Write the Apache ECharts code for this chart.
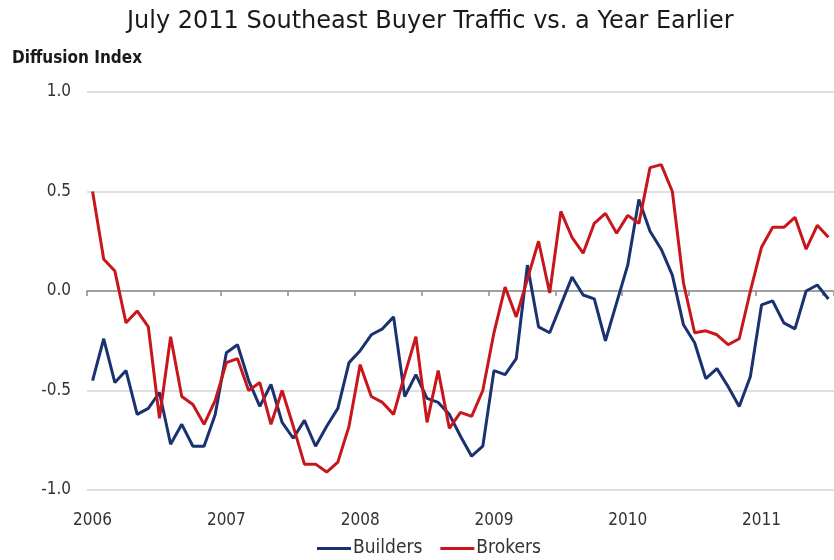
<!DOCTYPE html>
<html>
<head>
<meta charset="utf-8">
<script src="https://cdn.jsdelivr.net/npm/echarts@6/dist/echarts.min.js"></script>
<style>html,body{margin:0;padding:0;background:#fff}#c{width:834px;height:560px}</style>
</head>
<body>
<div id="c"></div>
<script>
const years = ['2006','2007','2008','2009','2010','2011'];
const months = [];
for (const y of years) { for (let m = 1; m <= 12; m++) { if (y === '2011' && m > 7) break; months.push(y + '-' + String(m).padStart(2,'0')); } }

const builders = [
  -0.45, -0.24, -0.46, -0.40, -0.62, -0.59, -0.51, -0.77, -0.67, -0.78, -0.78, -0.62,
  -0.31, -0.27, -0.45, -0.58, -0.47, -0.66, -0.74, -0.65, -0.78, -0.68, -0.59, -0.36,
  -0.30, -0.22, -0.19, -0.13, -0.53, -0.42, -0.54, -0.56, -0.62, -0.73, -0.83, -0.78,
  -0.40, -0.42, -0.34, 0.13, -0.18, -0.21, -0.07, 0.07, -0.02, -0.04, -0.25, -0.06,
  0.13, 0.46, 0.30, 0.21, 0.08, -0.17, -0.26, -0.44, -0.39, -0.48, -0.58, -0.43,
  -0.07, -0.05, -0.16, -0.19, 0.00, 0.03, -0.04
];
const brokers = [
  0.50, 0.16, 0.10, -0.16, -0.10, -0.18, -0.64, -0.23, -0.53, -0.57, -0.67, -0.55,
  -0.36, -0.34, -0.50, -0.46, -0.67, -0.50, -0.68, -0.87, -0.87, -0.91, -0.86, -0.68,
  -0.37, -0.53, -0.56, -0.62, -0.42, -0.23, -0.66, -0.40, -0.69, -0.61, -0.63, -0.50,
  -0.21, 0.02, -0.13, 0.06, 0.25, -0.01, 0.40, 0.27, 0.19, 0.34, 0.39, 0.29,
  0.38, 0.34, 0.62, 0.635, 0.50, 0.04, -0.21, -0.20, -0.22, -0.27, -0.24, 0.00,
  0.22, 0.32, 0.32, 0.37, 0.21, 0.33, 0.27
];
const yTicks = [-1.0, -0.5, 0.0, 0.5, 1.0];

const cond = '"DejaVu Sans Condensed", "DejaVu Sans", sans-serif';
const wide = '"DejaVu Sans", sans-serif';
const chart = echarts.init(document.getElementById('c'));
chart.setOption({
  animation: false,
  backgroundColor: '#ffffff',
  title: {
    text: 'July 2011 Southeast Buyer Traffic vs. a Year Earlier',
    left: 122, top: 5,
    textStyle: { fontFamily: wide, fontSize: 24, fontWeight: 'normal', color: '#1a1a1a' }
  },
  graphic: [{
    type: 'text', left: 12, top: 50,
    style: { text: 'Diffusion Index', font: 'bold 17px ' + cond, fill: '#1a1a1a' }
  }],
  legend: {
    bottom: -3, left: 312,
    itemWidth: 34, itemHeight: 3, itemGap: 18, icon: 'rect',
    textStyle: { fontFamily: cond, fontSize: 19, color: '#333', padding: [0, 0, 0, -3] },
    data: ['Builders', 'Brokers']
  },
  grid: { left: 87, right: -11, top: 92, bottom: 70 },
  xAxis: [{
    type: 'category', data: months, boundaryGap: true,
    axisLine: { show: false, onZero: false }, axisTick: { show: false },
    axisLabel: {
      interval: (i) => i % 12 === 0, margin: 22,
      formatter: (v) => v.slice(0, 4),
      fontFamily: cond, fontSize: 17, color: '#333'
    },
    splitLine: { show: false }
  }, {
    type: 'category', data: months, boundaryGap: true, position: 'bottom',
    axisLine: { show: true, onZero: true, lineStyle: { color: '#8c8c8c', width: 1.5 } },
    axisTick: { show: true, interval: (i) => i % 6 === 0, length: 5, lineStyle: { color: '#8c8c8c', width: 1.5 } },
    axisLabel: { show: false }, splitLine: { show: false }
  }],
  yAxis: {
    type: 'value', min: -1, max: 1, interval: 0.5,
    axisLine: { show: false }, axisTick: { show: false },
    axisLabel: {
      formatter: (v) => (yTicks.includes(v) ? v.toFixed(1) : ''),
      margin: 16, fontFamily: cond, fontSize: 17, color: '#333'
    },
    splitLine: { lineStyle: { color: '#d4d4d4', width: 1.5 } }
  },
  series: [{
    name: 'Builders', type: 'line', data: builders, xAxisIndex: 0,
    showSymbol: false, symbol: 'none',
    lineStyle: { color: '#1b3270', width: 3 }, itemStyle: { color: '#1b3270' }
  }, {
    name: 'Brokers', type: 'line', data: brokers, xAxisIndex: 0,
    showSymbol: false, symbol: 'none',
    lineStyle: { color: '#c8161d', width: 3 }, itemStyle: { color: '#c8161d' }
  }]
});
</script>
</body>
</html>
